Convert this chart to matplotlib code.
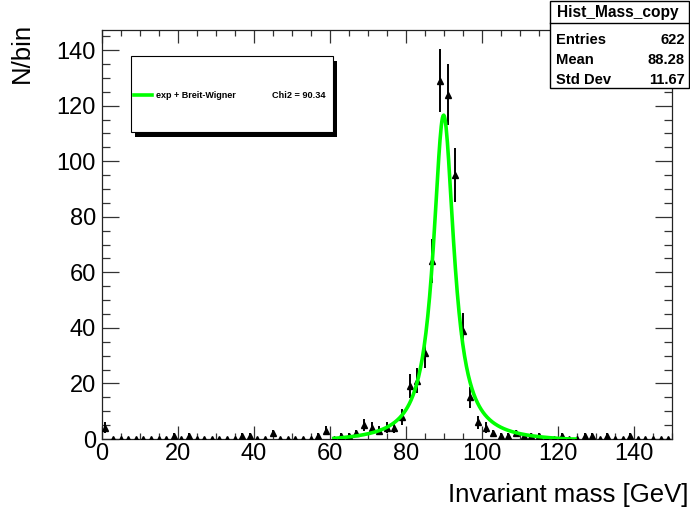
import numpy as np
import matplotlib
matplotlib.use("Agg")
import matplotlib.pyplot as plt
from matplotlib.patches import Rectangle
from matplotlib.lines import Line2D
from matplotlib.ticker import MultipleLocator

# ---------------- data ----------------
bin_edges_lo = 0.0
bin_edges_hi = 150.0
bin_width = 2.0
counts = [4, 0, 0, 0, 0, 0, 0, 0, 0, 1,
          0, 1, 0, 0, 0, 0, 0, 0, 1, 1,
          0, 0, 2, 0, 0, 0, 0, 0, 1, 3,
          0, 1, 1, 2, 5, 4, 3, 4, 4, 8,
          19, 21, 31, 64, 129, 124, 95, 39, 15, 6,
          4, 2, 1, 1, 2, 1, 1, 1, 0, 0,
          1, 0, 0, 1, 1, 0, 1, 0, 0, 1,
          0, 0, 0, 0, 0]

# fit (exp + Breit-Wigner) parameters
fit_mass = 89.95
fit_halfwidth = 3.3
fit_amp = 117.8
bkg_norm = -1.3
bkg_slope = -0.002
fit_range = (60.6, 125.0)

hist_name = "Hist_Mass_copy"
stat_labels = ["Entries", "Mean", "Std Dev"]
stat_values = ["622", "88.28", "11.67"]
legend_label = "exp + Breit-Wigner"
chi2_text = "Chi2 = 90.34"
xlabel = "Invariant mass [GeV]"
ylabel = "N/bin"

# ---------------- figure ----------------
W, H = 690, 516
plt.rcParams['font.family'] = ['Liberation Sans', 'DejaVu Sans']
fig = plt.figure(figsize=(W / 100, H / 100), dpi=100)

def fx(x):
    return x / W

def fy(y):
    return 1 - y / H

ax_l, ax_r, ax_t, ax_b = 101.5, 672.0, 29.5, 439.0
ax = fig.add_axes([fx(ax_l), fy(ax_b), (ax_r - ax_l) / W, (ax_b - ax_t) / H])

centers = np.arange(bin_edges_lo, bin_edges_hi, bin_width) + bin_width / 2
vals = np.array(counts, dtype=float)
errs = np.sqrt(vals)

ax.errorbar(centers, vals, yerr=errs, fmt='none', ecolor='black', elinewidth=1.4, capsize=0, zorder=3)
ax.plot(centers, vals, linestyle='none', marker='^', color='black', markersize=4.6, zorder=4)

xf = np.linspace(fit_range[0], fit_range[1], 400)
g2 = fit_halfwidth ** 2
yf = fit_amp * g2 / ((xf - fit_mass) ** 2 + g2) + bkg_norm * np.exp(bkg_slope * (xf - fit_range[0]))
yf = np.clip(yf, 0, None)
ax.plot(xf, yf, color='#00ff00', linewidth=2.6, zorder=5, solid_capstyle='butt')

ax.set_xlim(bin_edges_lo, bin_edges_hi)
ax.set_ylim(0, 147.4)

ax.xaxis.set_major_locator(MultipleLocator(20))
ax.xaxis.set_minor_locator(MultipleLocator(5))
ax.yaxis.set_major_locator(MultipleLocator(20))
ax.yaxis.set_minor_locator(MultipleLocator(5))
ax.tick_params(axis='x', which='major', direction='in', length=9.2, width=0.9, top=True, bottom=True,
               labelsize=17, pad=3, color='#333333')
ax.tick_params(axis='x', which='minor', direction='in', length=4.6, width=0.9, top=True, bottom=True, color='#333333')
ax.tick_params(axis='y', which='major', direction='in', length=12.0, width=0.9, left=True, right=True,
               labelsize=17, pad=4, color='#333333')
ax.tick_params(axis='y', which='minor', direction='in', length=6.0, width=0.9, left=True, right=True, color='#333333')
for s in ax.spines.values():
    s.set_linewidth(0.9)
    s.set_color('#222222')

ax.set_xticks([0, 20, 40, 60, 80, 100, 120, 140])

fig.text(fx(689), fy(495), xlabel, ha='right', va='center', fontsize=18.5)
fig.text(fx(22), fy(23), ylabel, ha='center', va='top', rotation=90, fontsize=18.5)

# ---------------- legend box ----------------
lx0, ly0, lx1, ly1 = 131, 56, 333, 132
fig.add_artist(Rectangle((fx(lx0 + 4), fy(ly1 + 5)), (lx1 - lx0) / W, (ly1 - ly0) / H,
                         transform=fig.transFigure, facecolor='black', edgecolor='black', lw=0))
fig.add_artist(Rectangle((fx(lx0), fy(ly1)), (lx1 - lx0) / W, (ly1 - ly0) / H,
                         transform=fig.transFigure, facecolor='white', edgecolor='black', lw=0.8))
fig.add_artist(Line2D([fx(134), fx(152)], [fy(95), fy(95)], transform=fig.transFigure,
                      color='#00ff00', lw=2.6))
fig.text(fx(156), fy(95), legend_label, ha='left', va='center', fontsize=6.5, fontweight='bold')
fig.text(fx(326), fy(95), chi2_text, ha='right', va='center', fontsize=6.6, fontweight='bold')

# ---------------- stats box ----------------
sx0, sy0, sx1, sy1 = 550, 1, 689, 88
fig.add_artist(Rectangle((fx(sx0), fy(sy1)), (sx1 - sx0) / W, (sy1 - sy0) / H,
                         transform=fig.transFigure, facecolor='white', edgecolor='black', lw=1.0, zorder=10))
fig.add_artist(Line2D([fx(sx0), fx(sx1)], [fy(23.3), fy(23.3)], transform=fig.transFigure,
                      color='black', lw=1.0, zorder=11))
fig.text(fx(617.5), fy(13), hist_name, ha='center', va='center', fontsize=11.2,
         fontweight='bold', zorder=12)
for lab, val, yy in zip(stat_labels, stat_values, [39.5, 60.5, 80.5]):
    fig.text(fx(556), fy(yy), lab, ha='left', va='center', fontsize=10.6, fontweight='bold', zorder=12)
    fig.text(fx(685), fy(yy), val, ha='right', va='center', fontsize=10.6, fontweight='bold', zorder=12)

fig.savefig("out.png", dpi=100)
